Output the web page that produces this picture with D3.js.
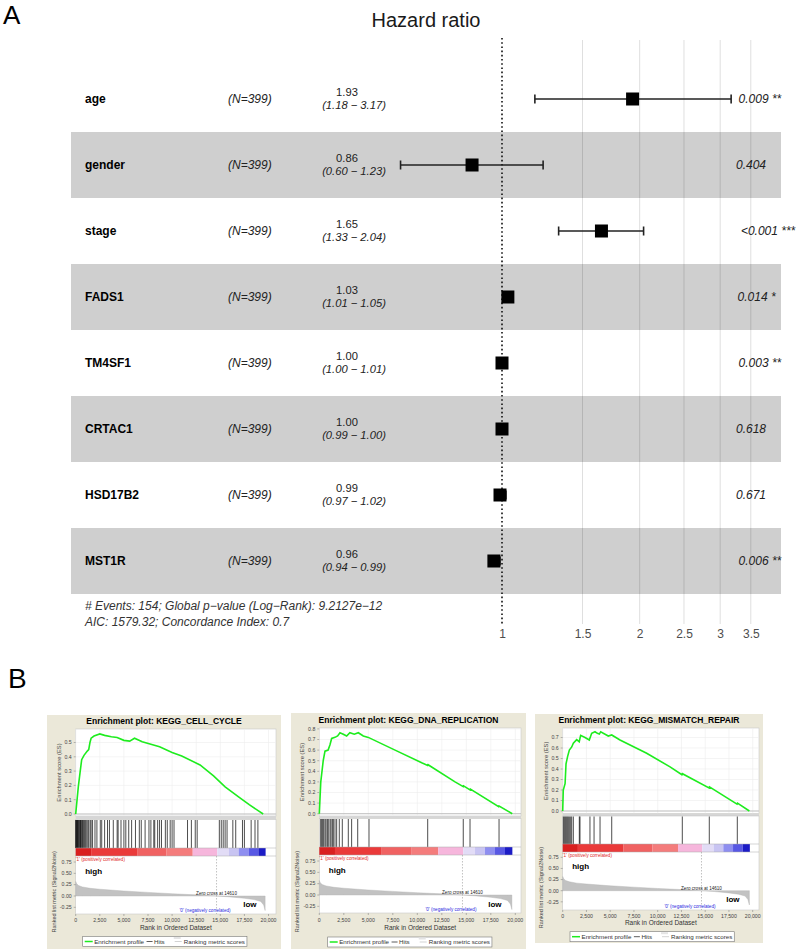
<!DOCTYPE html>
<html><head><meta charset="utf-8">
<script src="https://cdn.jsdelivr.net/npm/d3@7"></script>
<style>body{margin:0;background:#fff} svg{display:block} text{font-family:"Liberation Sans",Arial,sans-serif}</style>
</head><body><svg id="c" width="800" height="949"></svg>
<script>
// ---------- Panel A data ----------
const forestNames = ["age","gender","stage","FADS1","TM4SF1","CRTAC1","HSD17B2","MST1R"];
const forestN = [399,399,399,399,399,399,399,399];
const forestHR = [1.93,0.86,1.65,1.03,1.00,1.00,0.99,0.96];
const forestLow = [1.18,0.60,1.33,1.01,1.00,0.99,0.97,0.94];
const forestHigh = [3.17,1.23,2.04,1.05,1.01,1.00,1.02,0.99];
const forestP = ["0.009 **","0.404","<0.001 ***","0.014 *","0.003 **","0.618","0.671","0.006 **"];
const hrTicks = [1,1.5,2,2.5,3,3.5];
const footerLines = ["# Events: 154; Global p\u2212value (Log\u2212Rank): 9.2127e\u221212","AIC: 1579.32; Concordance Index: 0.7"];

// ---------- Panel B data ----------
const gseaTitles = ["Enrichment plot: KEGG_CELL_CYCLE","Enrichment plot: KEGG_DNA_REPLICATION","Enrichment plot: KEGG_MISMATCH_REPAIR"];
const esCellCycle = [[0,0],[270,0.19],[450,0.29],[620,0.38],[860,0.41],[1200,0.44],[1350,0.45],[1480,0.5],[1600,0.53],[1900,0.545],[2500,0.56],[3000,0.55],[3700,0.54],[4300,0.535],[5000,0.515],[5600,0.51],[6100,0.53],[6900,0.505],[8700,0.47],[10000,0.43],[11000,0.406],[12900,0.343],[14300,0.266],[15500,0.19],[17000,0.115],[18000,0.065],[19000,0.02],[19450,0]];
const esDnaRep = [[0,0],[150,0.3],[400,0.5],[580,0.59],[900,0.6],[1090,0.65],[1260,0.71],[1600,0.72],[1870,0.733],[2110,0.764],[2450,0.75],[2790,0.733],[3120,0.764],[3570,0.75],[3980,0.764],[4490,0.733],[5000,0.72],[7730,0.6],[10450,0.48],[11060,0.455],[11100,0.462],[13850,0.3],[14690,0.255],[14720,0.262],[15380,0.225],[15420,0.232],[18300,0.066],[18350,0.073],[19690,0]];
const esMismatch = [[0,0],[60,0.2],[250,0.26],[350,0.45],[520,0.52],[700,0.58],[950,0.61],[1120,0.645],[1470,0.68],[1740,0.66],[1890,0.72],[2350,0.70],[2800,0.676],[3050,0.74],[3400,0.755],[3650,0.74],[3860,0.733],[4000,0.755],[4800,0.714],[5160,0.724],[6030,0.676],[8840,0.55],[11300,0.42],[12550,0.345],[12600,0.355],[15400,0.22],[15450,0.23],[18350,0.065],[18400,0.075],[19650,0]];
const hitsCellCycle = [0,40,90,140,190,240,300,380,450,500,560,640,700,800,900,1000,1100,1250,1350,1500,1600,1750,2000,2200,2550,2700,3000,3300,3500,3900,4300,4400,4700,5000,5200,5500,5800,6200,6600,6800,7200,7600,7800,8100,8200,8500,8700,8900,9300,9500,9800,10000,10200,11600,12000,12400,12600,14900,15100,15300,15500,15700,16300,16600,17300,17500,18200,18600,18900];
const hitsDnaRep = [143,245,347,449,582,684,820,918,1092,1194,1330,1432,1602,1772,2040,2347,2960,3300,3920,5070,11060,14690,15380,18340];
const hitsMismatch = [70,170,275,380,485,590,700,840,950,1120,1750,1820,2870,3300,3930,5160,12590,15430,18380];
const esTickSets = [[0,0.1,0.2,0.3,0.4,0.5],[0,0.1,0.2,0.3,0.4,0.5,0.6,0.7,0.8],[0,0.1,0.2,0.3,0.4,0.5,0.6,0.7]];
const rankMetric = [[0,0.32],[100,0.27],[300,0.23],[700,0.2],[1500,0.17],[2500,0.15],[5000,0.11],[7500,0.08],[10000,0.05],[12500,0.025],[14610,0],[16000,-0.02],[17500,-0.05],[18500,-0.08],[19200,-0.12],[19500,-0.2],[19650,-0.32]];
const colorBarStops = [0,1600,6370,9430,12140,14690,15890,16910,17930,18950,19700];
const colorBarColors = ["#d92020","#ea3a3a","#f06262","#f47c7c","#f6b6dc","#e2dcf6","#c8c4f2","#8e8ef0","#5858e4","#1c1cc6"];
const zeroCross = 14610;
const rankTicks = [0,2500,5000,7500,10000,12500,15000,17500,20000];
const metricTicks = [0.75,0.5,0.25,0,-0.25];

// ---------- layout ----------
const svg = d3.select("#c");
svg.append("text").attr("x",3).attr("y",24).attr("font-size",26).text("A");
svg.append("text").attr("x",426).attr("y",27).attr("text-anchor","middle").attr("font-size",20).attr("fill","#1a1a1a").text("Hazard ratio");

const xHR = d3.scaleLog().domain([1,3.5]).range([502,750.8]);
const yRow = d3.scaleBand().domain(forestNames).range([66,594]);
const bw = yRow.bandwidth();

forestNames.forEach((n,i)=>{
  if(i%2===1) svg.append("rect").attr("x",71).attr("y",yRow(n)).attr("width",710).attr("height",bw).attr("fill","#cfcfcf");
});
hrTicks.slice(1).forEach(t=>{
  svg.append("line").attr("x1",xHR(t)).attr("x2",xHR(t)).attr("y1",40).attr("y2",624).attr("stroke","rgba(0,0,0,0.13)").attr("stroke-width",1);
});
svg.append("line").attr("x1",xHR(1)).attr("x2",xHR(1)).attr("y1",38).attr("y2",626).attr("stroke","#111").attr("stroke-width",1.6).attr("stroke-dasharray","1.6,2.6");

const ax = svg.append("g").attr("transform","translate(0,625)")
  .call(d3.axisBottom(xHR).tickValues(hrTicks).tickFormat(d=>String(d)).tickSize(0).tickPadding(4));
ax.select(".domain").remove();
ax.selectAll("text").attr("font-size",12).attr("fill","#4d4d4d").attr("font-family","Liberation Sans, Arial, sans-serif");

forestNames.forEach((n,i)=>{
  const c = yRow(n)+bw/2;
  svg.append("text").attr("x",85).attr("y",c+4).attr("font-size",12).attr("font-weight","bold").text(n);
  svg.append("text").attr("x",228).attr("y",c+4).attr("font-size",12).attr("font-style","italic").attr("fill","#222").text("(N="+forestN[i]+")");
  svg.append("text").attr("x",347).attr("y",c-3).attr("font-size",11.2).attr("text-anchor","middle").attr("fill","#222").text(forestHR[i].toFixed(2));
  svg.append("text").attr("x",354).attr("y",c+10.2).attr("font-size",11.2).attr("text-anchor","middle").attr("font-style","italic").attr("fill","#222")
    .text("("+forestLow[i].toFixed(2)+" \u2212 "+forestHigh[i].toFixed(2)+")");
  const x1 = xHR(forestLow[i]), x2 = xHR(forestHigh[i]);
  svg.append("line").attr("x1",x1).attr("x2",x2).attr("y1",c).attr("y2",c).attr("stroke","#222").attr("stroke-width",1.6);
  [x1,x2].forEach(xx=>svg.append("line").attr("x1",xx).attr("x2",xx).attr("y1",c-4.5).attr("y2",c+4.5).attr("stroke","#222").attr("stroke-width",1.6));
  svg.append("rect").attr("x",xHR(forestHR[i])-6.5).attr("y",c-6.5).attr("width",13).attr("height",13).attr("fill","#000");
  const pt = svg.append("text").attr("y",c+4).attr("font-size",12).attr("font-style","italic").attr("fill","#222").text(forestP[i]);
  const len = pt.node().getComputedTextLength();
  pt.attr("x",730+0.2*len);
});
footerLines.forEach((t,i)=>{
  svg.append("text").attr("x",85).attr("y",610+i*16).attr("font-size",12).attr("font-style","italic").attr("fill","#333").text(t);
});

// ---------- Panel B ----------
svg.append("text").attr("x",8).attr("y",688).attr("font-size",28).text("B");

const gseaLayouts = [
 {L:47,R:281,T:715,B:949,x0:75.7,x20:268.5,pR:276,titleY:724,esTop:729,esBot:816,es0:814,esUnit:143,hitsTop:819.5,hitsBot:848,barBot:856,rkBot:914,m0:896,mUnit:45.3,tickY:922,axY:929.5,legY:941.5,legL:82.7,highY:874,lowY:906.7},
 {L:291,R:526,T:713,B:949,x0:319.3,x20:515.3,pR:521,titleY:722.5,esTop:728,esBot:816,es0:813.7,esUnit:106,hitsTop:818.5,hitsBot:847,barBot:855,rkBot:913,m0:895,mUnit:45.3,tickY:922,axY:930,legY:942,legL:327.7,highY:873,lowY:906.7},
 {L:535,R:763,T:714,B:943,x0:562.7,x20:752.7,pR:759,titleY:722.5,esTop:728,esBot:813.5,es0:811,esUnit:105,hitsTop:816,hitsBot:844,barBot:852,rkBot:910,m0:890.7,mUnit:44.5,tickY:917.5,axY:925,legY:936.7,legL:570,highY:869,lowY:901.7}
];
const esSets = [esCellCycle,esDnaRep,esMismatch];
const hitSets = [hitsCellCycle,hitsDnaRep,hitsMismatch];

gseaLayouts.forEach((cfg,k)=>{
  const g = svg.append("g");
  g.append("rect").attr("x",cfg.L).attr("y",cfg.T).attr("width",cfg.R-cfg.L).attr("height",cfg.B-cfg.T).attr("fill","#ebe8d9");
  const x = d3.scaleLinear().domain([0,20000]).range([cfg.x0,cfg.x20]);
  const yES = d3.scaleLinear().domain([0,1]).range([cfg.es0,cfg.es0-cfg.esUnit]);
  const yM = d3.scaleLinear().domain([0,1]).range([cfg.m0,cfg.m0-cfg.mUnit]);
  const W = cfg.pR-cfg.x0;
  g.append("text").attr("x",(cfg.L+cfg.R)/2).attr("y",cfg.titleY).attr("text-anchor","middle").attr("font-size",8.5).attr("font-weight","bold").text(gseaTitles[k]);
  g.append("rect").attr("x",cfg.x0).attr("y",cfg.esTop).attr("width",W).attr("height",cfg.esBot-cfg.esTop).attr("fill","#fff").attr("stroke","#c8c8c8").attr("stroke-width",0.6);
  rankTicks.forEach(t=>{ if(x(t)<cfg.pR) g.append("line").attr("x1",x(t)).attr("x2",x(t)).attr("y1",cfg.esTop).attr("y2",cfg.esBot).attr("stroke","#ececec").attr("stroke-width",0.6);});
  esTickSets[k].forEach(t=>{
    g.append("line").attr("x1",cfg.x0).attr("x2",cfg.pR).attr("y1",yES(t)).attr("y2",yES(t)).attr("stroke","#ececec").attr("stroke-width",0.6);
    g.append("line").attr("x1",cfg.x0-2).attr("x2",cfg.x0).attr("y1",yES(t)).attr("y2",yES(t)).attr("stroke","#777").attr("stroke-width",0.5);
    g.append("text").attr("x",cfg.x0-4).attr("y",yES(t)+1.8).attr("text-anchor","end").attr("font-size",5.2).attr("fill","#444").text(t.toFixed(1));
  });
  g.append("rect").attr("x",cfg.x0).attr("y",cfg.esBot).attr("width",W).attr("height",cfg.hitsTop-cfg.esBot).attr("fill","#d6d6d6");
  g.append("line").attr("x1",cfg.x0).attr("x2",cfg.pR).attr("y1",yES(0)).attr("y2",yES(0)).attr("stroke","#c0c0c0").attr("stroke-width",1);
  g.append("path").datum(esSets[k]).attr("fill","none").attr("stroke","#1eec1e").attr("stroke-width",1.6)
    .attr("d",d3.line().x(d=>x(d[0])).y(d=>yES(d[1])));
  g.append("text").attr("transform",`translate(${cfg.x0-15},${(cfg.esTop+cfg.esBot)/2}) rotate(-90)`).attr("text-anchor","middle").attr("font-size",5.8).attr("fill","#444").text("Enrichment score (ES)");
  g.append("rect").attr("x",cfg.x0).attr("y",cfg.hitsTop).attr("width",W).attr("height",cfg.rkBot-cfg.hitsTop).attr("fill","#fff").attr("stroke","#c8c8c8").attr("stroke-width",0.6);
  hitSets[k].forEach(h=>{
    g.append("line").attr("x1",x(h)).attr("x2",x(h)).attr("y1",cfg.hitsTop+0.5).attr("y2",cfg.hitsBot).attr("stroke","#000").attr("stroke-opacity",0.78).attr("stroke-width",0.9);
  });
  colorBarColors.forEach((c,i)=>{
    g.append("rect").attr("x",x(colorBarStops[i])).attr("y",cfg.hitsBot).attr("width",x(colorBarStops[i+1])-x(colorBarStops[i])).attr("height",cfg.barBot-cfg.hitsBot).attr("fill",c);
  });
  g.append("line").attr("x1",cfg.x0).attr("x2",cfg.pR).attr("y1",cfg.hitsBot).attr("y2",cfg.hitsBot).attr("stroke","#aaa").attr("stroke-width",0.5);
  g.append("line").attr("x1",cfg.x0).attr("x2",cfg.pR).attr("y1",cfg.barBot).attr("y2",cfg.barBot).attr("stroke","#aaa").attr("stroke-width",0.5);
  g.append("path").datum(rankMetric).attr("fill","#c2c2c2").attr("stroke","#b0b0b0").attr("stroke-width",0.4)
    .attr("d",d3.area().x(d=>x(d[0])).y0(yM(0)).y1(d=>yM(d[1])));
  metricTicks.forEach(t=>{
    g.append("line").attr("x1",cfg.x0-2).attr("x2",cfg.x0).attr("y1",yM(t)).attr("y2",yM(t)).attr("stroke","#777").attr("stroke-width",0.5);
    g.append("text").attr("x",cfg.x0-4).attr("y",yM(t)+1.8).attr("text-anchor","end").attr("font-size",5.2).attr("fill","#444").text(t.toFixed(2));
  });
  g.append("line").attr("x1",x(zeroCross)).attr("x2",x(zeroCross)).attr("y1",cfg.barBot).attr("y2",cfg.rkBot).attr("stroke","#999").attr("stroke-width",0.6).attr("stroke-dasharray","1.5,1.5");
  g.append("text").attr("x",x(zeroCross)).attr("y",yM(0.25)+10).attr("text-anchor","middle").attr("font-size",4.6).attr("fill","#222").text("Zero cross at "+zeroCross);
  g.append("text").attr("x",cfg.x0).attr("y",cfg.barBot+4.5).attr("font-size",4.6).attr("fill","#e02828").text("'1' (positively correlated)");
  g.append("text").attr("x",x(zeroCross)+14).attr("y",cfg.rkBot-2.5).attr("text-anchor","end").attr("font-size",4.6).attr("fill","#2828e0").text("'0' (negatively correlated)");
  g.append("text").attr("x",cfg.x0+9.5).attr("y",cfg.highY).attr("font-size",8).attr("font-weight","bold").text("high");
  g.append("text").attr("x",cfg.pR-19.5).attr("y",cfg.lowY).attr("text-anchor","end").attr("font-size",8).attr("font-weight","bold").text("low");
  g.append("text").attr("transform",`translate(${cfg.x0-20},${(cfg.hitsBot+cfg.axY)/2 + 3}) rotate(-90)`).attr("text-anchor","middle").attr("font-size",5.5).attr("fill","#444").text("Ranked list metric (Signal2Noise)");
  rankTicks.forEach(t=>{
    g.append("line").attr("x1",x(t)).attr("x2",x(t)).attr("y1",cfg.rkBot).attr("y2",cfg.rkBot+2).attr("stroke","#777").attr("stroke-width",0.5);
    g.append("text").attr("x",x(t)).attr("y",cfg.tickY).attr("text-anchor","middle").attr("font-size",5.2).attr("fill","#444").text(d3.format(",")(t));
  });
  g.append("text").attr("x",(cfg.x0+cfg.pR)/2).attr("y",cfg.axY).attr("text-anchor","middle").attr("font-size",6.5).attr("fill","#333").text("Rank in Ordered Dataset");
  const lg = g.append("g");
  const L = cfg.legL, ly = cfg.legY;
  const box = lg.append("rect").attr("x",L).attr("y",ly-5).attr("height",10).attr("fill","#fff").attr("stroke","#777").attr("stroke-width",0.6);
  let cx = L+2;
  lg.append("line").attr("x1",cx).attr("x2",cx+8).attr("y1",ly).attr("y2",ly).attr("stroke","#1eec1e").attr("stroke-width",1.5);
  cx += 9.5;
  let t1 = lg.append("text").attr("x",cx).attr("y",ly+2).attr("font-size",6.2).attr("fill","#333").text("Enrichment profile");
  cx += t1.node().getComputedTextLength()+2.5;
  lg.append("line").attr("x1",cx).attr("x2",cx+6).attr("y1",ly).attr("y2",ly).attr("stroke","#333").attr("stroke-width",0.8);
  cx += 7.5;
  let t2 = lg.append("text").attr("x",cx).attr("y",ly+2).attr("font-size",6.2).attr("fill","#333").text("Hits");
  cx += t2.node().getComputedTextLength()+9;
  lg.append("rect").attr("x",cx).attr("y",ly-4.5).attr("width",7).attr("height",2).attr("fill","#e4e4e4");
  lg.append("line").attr("x1",cx+1).attr("x2",cx+8).attr("y1",ly).attr("y2",ly).attr("stroke","#c8c8c8").attr("stroke-width",0.8);
  cx += 10;
  let t3 = lg.append("text").attr("x",cx).attr("y",ly+2).attr("font-size",6.2).attr("fill","#333").text("Ranking metric scores");
  cx += t3.node().getComputedTextLength()+2;
  box.attr("width",cx-L);
});
</script></body></html>
